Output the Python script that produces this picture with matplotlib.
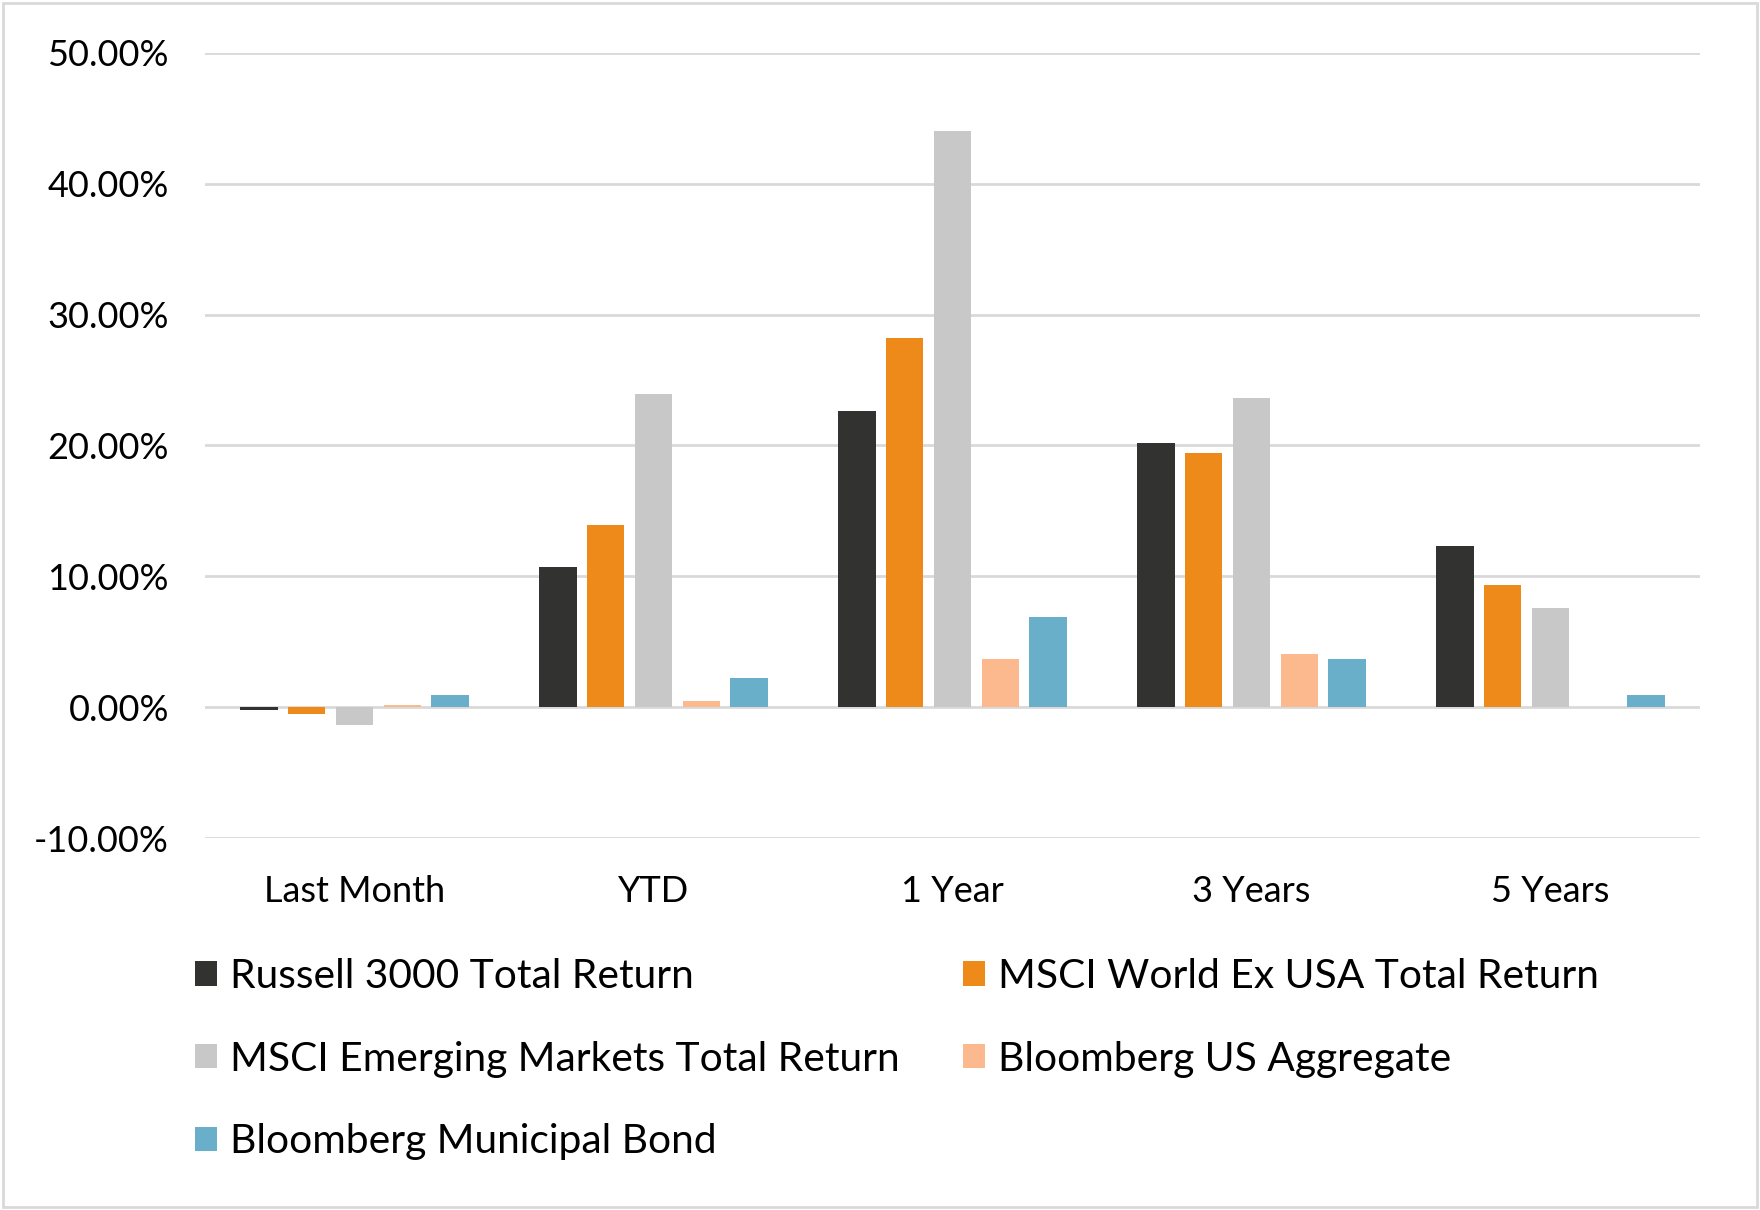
import matplotlib
matplotlib.use("Agg")
import matplotlib.pyplot as plt
from matplotlib.patches import Rectangle, Patch
from matplotlib.ticker import FuncFormatter
import numpy as np

plt.rcParams['font.family'] = ['Lato', 'DejaVu Sans']

periods = ['Last Month', 'YTD', '1 Year', '3 Years', '5 Years']
series = ['Russell 3000 Total Return', 'MSCI World Ex USA Total Return',
          'MSCI Emerging Markets Total Return', 'Bloomberg US Aggregate',
          'Bloomberg Municipal Bond']
russell = [-0.25, 10.7, 22.6, 20.2, 12.3]
world = [-0.55, 13.9, 28.2, 19.4, 9.3]
emerging = [-1.35, 23.9, 44.0, 23.6, 7.6]
aggregate = [0.2, 0.5, 3.7, 4.1, 0.0]
municipal = [0.95, 2.2, 6.9, 3.7, 0.95]
colors = ['#323230', '#EE8A1A', '#C8C8C9', '#FDB98E', '#6AAFC9']

values = [russell, world, emerging, aggregate, municipal]

fig = plt.figure(figsize=(17.6, 12.1), dpi=100)
ax = fig.add_axes([205 / 1760, 1 - 838 / 1210, 1495 / 1760, 785 / 1210])

x = np.arange(len(periods))
pitch = 0.16
width = 0.125
for i, (vals, c) in enumerate(zip(values, colors)):
    ax.bar(x + (i - 2) * pitch, vals, width=width, color=c, zorder=3,
           label=series[i])

ax.set_xlim(-0.5, 4.5)
ax.set_ylim(-10, 50)
ax.set_yticks(np.arange(-10, 51, 10))
ax.yaxis.set_major_formatter(FuncFormatter(lambda v, p: f'{v:.2f}%'))
ax.set_xticks(x)
ax.set_xticklabels(periods)
ax.grid(axis='y', color='#D9D9D9', linewidth=2, zorder=0)
for s in ax.spines.values():
    s.set_visible(False)
ax.tick_params(axis='y', length=0, labelsize=26, colors='black', pad=26)
ax.tick_params(axis='x', length=0, labelsize=26, colors='black', pad=27)

handles = [Patch(facecolor=c) for c in colors]
kw = dict(frameon=False, fontsize=29.3, handlelength=0.55, handleheight=0.55,
          handletextpad=0.3, labelspacing=1.12, borderpad=0, borderaxespad=0,
          loc='upper left')
fig.legend([handles[0], handles[2], handles[4]], [series[0], series[2], series[4]],
           bbox_to_anchor=(195 / 1760, 1 - 958 / 1210), **kw)
fig.legend([handles[1], handles[3]], [series[1], series[3]],
           bbox_to_anchor=(963 / 1760, 1 - 958 / 1210), **kw)

fig.patches.append(Rectangle((3 / 1760, 3 / 1210), 1 - 6 / 1760, 1 - 6 / 1210,
                             transform=fig.transFigure, fill=False,
                             edgecolor='#D9D9D9', linewidth=2))

fig.savefig('out.png', dpi=100, facecolor='white')
